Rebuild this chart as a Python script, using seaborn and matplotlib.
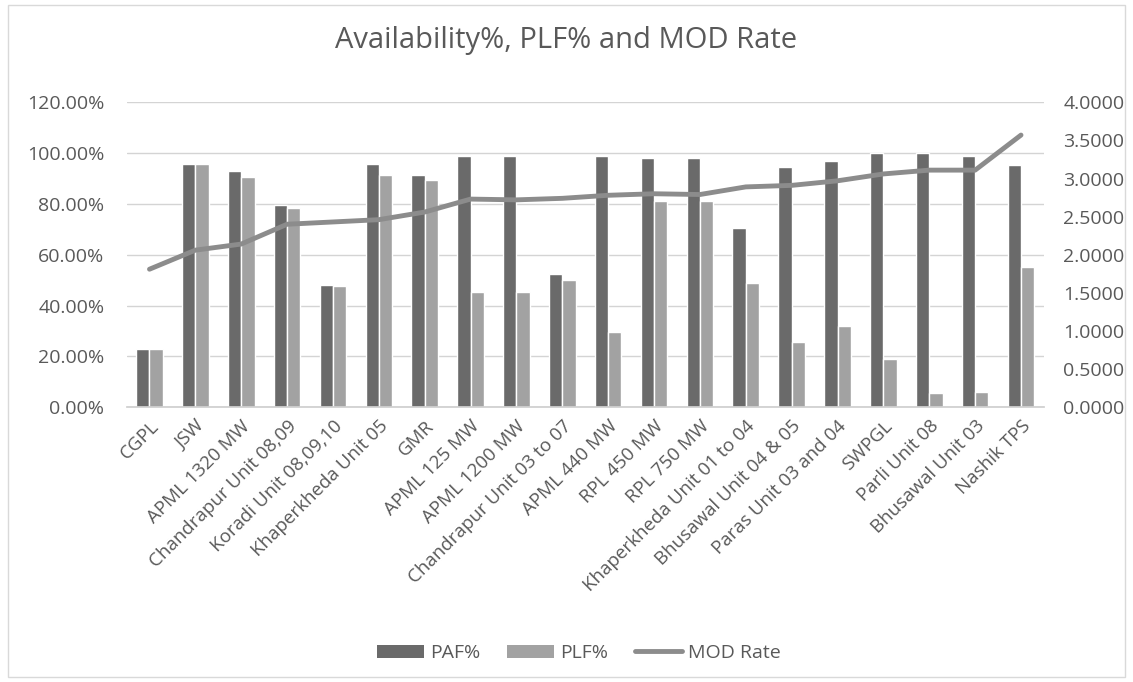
import numpy as np
import pandas as pd
import matplotlib
matplotlib.use("Agg")
import matplotlib.pyplot as plt
import seaborn as sns
from matplotlib.patches import Patch
from matplotlib.lines import Line2D
from matplotlib.ticker import FuncFormatter, MultipleLocator

stations = ["CGPL", "JSW", "APML 1320 MW", "Chandrapur Unit 08,09", "Koradi Unit 08,09,10",
            "Khaperkheda Unit 05", "GMR", "APML 125 MW", "APML 1200 MW", "Chandrapur Unit 03 to 07",
            "APML 440 MW", "RPL 450 MW", "RPL 750 MW", "Khaperkheda Unit 01 to 04",
            "Bhusawal Unit 04 & 05", "Paras Unit 03 and 04", "SWPGL", "Parli Unit 08",
            "Bhusawal Unit 03", "Nashik TPS"]
paf = [22.8, 95.9, 93.0, 79.5, 48.0, 95.9, 91.5, 98.8, 98.8, 52.6,
       98.8, 97.9, 97.9, 70.7, 94.4, 97.0, 99.9, 99.9, 98.9, 95.5]
plf = [22.8, 95.6, 90.7, 78.2, 47.8, 91.3, 89.6, 45.5, 45.5, 50.0,
       29.6, 81.1, 81.1, 48.7, 25.5, 31.9, 18.9, 5.4, 5.8, 55.2]
mod_rate = [1.81, 2.06, 2.14, 2.40, 2.43, 2.46, 2.56, 2.73, 2.72, 2.74,
            2.78, 2.80, 2.79, 2.89, 2.91, 2.97, 3.06, 3.11, 3.11, 3.57]

FONT = ["Open Sans", "DejaVu Sans"]
sns.set_theme(style="white")
plt.rcParams["font.family"] = FONT

c_paf = "#6a6a6a"
c_plf = "#a2a2a2"
c_line = "#8c8c8c"
txt = "#595959"

df = pd.DataFrame({
    "Station": stations * 2,
    "Value": paf + plf,
    "Series": ["PAF%"] * len(stations) + ["PLF%"] * len(stations),
})

fig = plt.figure(figsize=(11.33, 6.82), dpi=100, facecolor="white")
ax = fig.add_axes([0.1117, 0.403, 0.8097, 0.447])

sns.barplot(data=df, x="Station", y="Value", hue="Series", order=stations,
            palette={"PAF%": c_paf, "PLF%": c_plf}, width=0.58, saturation=1,
            ax=ax, legend=False)

ax.set_ylim(0, 120)
ax.yaxis.set_major_locator(MultipleLocator(20))
ax.yaxis.set_major_formatter(FuncFormatter(lambda v, p: f"{v:.2f}%"))
ax.set_xlim(-0.5, len(stations) - 0.5)
ax.grid(axis="y", color="#d4d4d4", linewidth=1)
ax.set_axisbelow(True)
for s in ["top", "left", "right"]:
    ax.spines[s].set_visible(False)
ax.spines["bottom"].set_color("#cfcfcf")
ax.set_xlabel("")
ax.set_ylabel("")
ax.tick_params(axis="y", length=0, labelsize=14, labelcolor=txt, pad=16)
ax.tick_params(axis="x", length=0, labelsize=13.5, labelcolor=txt, pad=7)
ax.set_xticks(range(len(stations)))
ax.set_xticklabels(stations, rotation=45, ha="right", rotation_mode="anchor")

ax2 = ax.twinx()
sns.lineplot(x=np.arange(len(stations)), y=mod_rate, color=c_line, linewidth=3.5,
             ax=ax2, legend=False)
ax2.set_ylim(0, 4)
ax2.yaxis.set_major_locator(MultipleLocator(0.5))
ax2.yaxis.set_major_formatter(FuncFormatter(lambda v, p: f"{v:.4f}"))
ax2.tick_params(axis="y", length=0, labelsize=14, labelcolor=txt, pad=14)
for s in ["top", "left", "right", "bottom"]:
    ax2.spines[s].set_visible(False)
ax2.set_ylabel("")
ax2.grid(False)

fig.text(0.5, 0.941, "Availability%, PLF% and MOD Rate", ha="center", va="center",
         fontsize=21, color=txt)

handles = [Patch(facecolor=c_paf, edgecolor="none", label="PAF%"),
           Patch(facecolor=c_plf, edgecolor="none", label="PLF%"),
           Line2D([0], [0], color=c_line, linewidth=3.5, label="MOD Rate")]
leg = fig.legend(handles=handles, loc="center", bbox_to_anchor=(0.511, 0.0425), ncol=3,
                 frameon=False, fontsize=14, handlelength=2.4, handleheight=0.65,
                 columnspacing=1.4, handletextpad=0.3)
for t in leg.get_texts():
    t.set_color(txt)

border = plt.Rectangle((0.007, 0.007), 0.986, 0.986, transform=fig.transFigure,
                       fill=False, edgecolor="#d9d9d9", linewidth=1)
fig.patches.append(border)

fig.savefig("out.png", dpi=100, facecolor="white")
